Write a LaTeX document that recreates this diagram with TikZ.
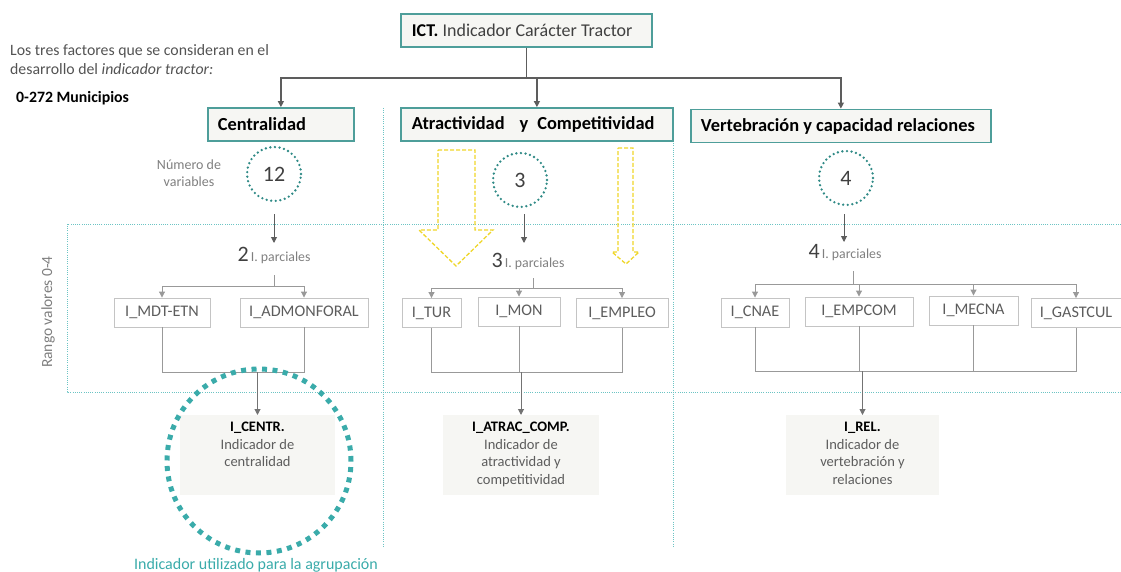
\documentclass[tikz,border=0pt]{standalone}
\usepackage{fontspec}
\setmainfont{Carlito}
\usetikzlibrary{arrows.meta}
\definecolor{teal1}{HTML}{4E9E9A}
\definecolor{tealdot}{HTML}{2F8A86}
\definecolor{tealbig}{HTML}{3AABAA}
\definecolor{teallight}{HTML}{6CC4C4}
\definecolor{txtdark}{HTML}{404040}
\definecolor{txtgray}{HTML}{7F7F7F}
\definecolor{boxgray}{HTML}{C4C4C4}
\definecolor{lightfill}{HTML}{F6F6F3}
\definecolor{yel}{HTML}{EFD62A}
\newcommand{\fs}[1]{\fontsize{#1}{#1}\selectfont}
\newcommand{\restext}[1]{\parbox[c][80pt][t]{150pt}{\centering\fontsize{14.5}{17.5}\selectfont\vspace{7pt}#1}}
\tikzset{
  factor/.style={draw=teal1, line width=1.8pt, fill=lightfill, minimum height=33pt, inner xsep=10pt, inner ysep=0pt, align=flush left, anchor=west, text=black, font=\fs{18.4}\bfseries},
  numcirc/.style={circle, draw=tealdot, line width=2.6pt, dash pattern=on 0pt off 4.6pt, line cap=round, minimum size=54pt, inner sep=0pt, font=\fs{22}, text=txtdark},
  ibox/.style={draw=boxgray, line width=0.9pt, fill=white, minimum height=29pt, inner sep=0pt, font=\fs{16.2}, text=txtdark!85},
  resbox/.style={fill=lightfill, minimum width=155pt, inner sep=0pt, anchor=north, text=txtdark!85},
  conn/.style={draw=txtdark!85, line width=1.2pt, -{Triangle[width=6pt,length=6pt]}},
  tline/.style={draw=black!40, line width=1pt},
  tarrow/.style={draw=black!40, line width=1pt, -{Triangle[width=6pt,length=6pt]}},
  tealdots/.style={draw=teallight, line width=1pt, dash pattern=on 1pt off 1.2pt},
  yarrow/.style={draw=yel, line width=1.3pt, dash pattern=on 4pt off 2pt},
  parc/.style={inner sep=0pt, text=txtgray}
}
\begin{document}
\begin{tikzpicture}[x=1pt,y=-1pt]
\useasboundingbox (0,0) rectangle (1121,572);

% dotted teal frame and separators
\draw[tealdots] (1121,224) -- (67,224) -- (67,392) -- (1121,392);
\draw[tealdots] (383,108) -- (383,546);
\draw[tealdots] (673,108) -- (673,546);

% intro text
\node[anchor=north west, align=left, inner sep=0pt, text=txtdark!90, font=\fontsize{15.8}{19.5}\selectfont] (intro) at (10,44)
  {Los tres factores que se consideran en el\\desarrollo del \textit{indicador tractor:}};
\node[anchor=west, inner sep=0pt, font=\fs{15.8}\bfseries, text=black] (muni) at (16,98) {0-272 Municipios};

% top box
\node[factor, font=\fs{18}, text width=235pt, inner xsep=8pt] (ict) at (400,30.5) {\hspace{3pt}\textbf{ICT.} \textcolor{txtdark}{Indicador Carácter Tractor}};

% factor boxes
\node[factor, text width=126pt] (cen) at (207,124.5) {Centralidad};
\node[factor, text width=250pt, inner xsep=11pt] (atr) at (400,124.5) {Atractividad\hspace{15pt}y\hspace{9pt}Competitividad};
\node[factor, text width=280pt] (ver) at (690,126) {Vertebración y capacidad relaciones};

\coordinate (hub) at (ict.south |- 0,78);
\draw[conn] (ict.south) -- (hub) -| (cen.north);
\draw[conn] (ict.south) -- (hub) -| (atr.north);
\draw[conn] (ict.south) -- (hub) -| (ver.north);

% number circles
\node[numcirc] (c12) at (274,174) {12};
\node[numcirc] (c3) at (520,180) {3};
\node[numcirc] (c4) at (846,178) {4};
\node[align=center, inner sep=0pt, text=txtgray, font=\fontsize{14}{17}\selectfont] (nvar) at (189,173) {Número de\\variables};

% yellow dashed arrows
\draw[yarrow] (438,150) -- (475,150) -- (475,230) -- (493,230) -- (456,266) -- (419,230) -- (438,230) -- cycle;
\draw[yarrow] (618,148) -- (633,148) -- (633,252) -- (639,252) -- (626,264) -- (612,252) -- (618,252) -- cycle;

% partial counts
\node[parc] (p2) at (274,255) {\textcolor{txtdark}{\fs{22}2} \fs{13.8}I. parciales};
\node[parc] (p3) at (528,261) {\textcolor{txtdark}{\fs{22}3} \fs{13.8}I. parciales};
\node[parc] (p4) at (845,253) {\textcolor{txtdark}{\fs{22}4} \fs{13.8}I. parciales};

\draw[conn, line width=1pt] (c12.south) ++(0,12) coordinate (a12) -- (274,243) coordinate (e12);
\draw[conn, line width=1pt] (c3.south) ++(4,6) coordinate (a3) -- (524,243) coordinate (e3);
\draw[conn, line width=1pt] (c4.south) ++(-2,8) coordinate (a4) -- (844,242) coordinate (e4);

% sub-indicator boxes
\node[ibox, minimum width=96pt] (mdt) at (162,312.5) {I\_MDT-ETN};
\node[ibox, minimum width=128pt] (adm) at (304,312.5) {I\_ADMONFORAL};

\node[ibox, minimum width=59pt] (tur) at (431.5,313) {I\_TUR};
\node[ibox, minimum width=82pt] (mon) at (519,311.5) {I\_MON};
\node[ibox, minimum width=92pt] (emp) at (622,313) {I\_EMPLEO};

\node[ibox, minimum width=68pt] (cnae) at (755,312.5) {I\_CNAE};
\node[ibox, minimum width=108pt] (empcom) at (859,311.5) {I\_EMPCOM};
\node[ibox, minimum width=89pt] (mecna) at (973.5,310.5) {I\_MECNA};
\node[ibox, minimum width=90pt] (gast) at (1076,313) {I\_GASTCUL};

% branches
\coordinate (b2t) at (274,275); \coordinate (b2) at (274,286);
\draw[tline] (b2t) -- (b2);
\draw[tarrow] (b2) -| (mdt.north);
\draw[tarrow] (b2) -| (adm.north);

\coordinate (b3t) at (533,278); \coordinate (b3) at (533,288);
\draw[tline] (b3t) -- (b3);
\draw[tarrow] (b3) -| (tur.north);
\draw[tarrow] (b3) -| (mon.north);
\draw[tarrow] (b3) -| (emp.north);

\coordinate (b4t) at (853,271); \coordinate (b4) at (853,284);
\draw[tline] (b4t) -- (b4);
\draw[tarrow] (b4) -| (cnae.north);
\draw[tarrow] (b4) -| (empcom.north);
\draw[tarrow] (b4) -| (mecna.north);
\draw[tarrow] (b4) -| (gast.north);

% result boxes
\node[resbox] (icentr) at (257.5,415) {\restext{\textbf{\textcolor{black}{I\_CENTR.}}\\Indicador de\\centralidad}};
\node[resbox, minimum width=156pt] (iatr) at (521,415) {\restext{\textbf{\textcolor{black}{I\_ATRAC\_COMP.}}\\Indicador de\\atractividad y\\competitividad}};
\node[resbox, minimum width=153pt] (irel) at (862.5,415) {\restext{\textbf{\textcolor{black}{I\_REL.}}\\Indicador de\\vertebración y\\relaciones}};

% joins
\coordinate (j2) at (257.5,372);
\draw[tline] (mdt.south) |- (j2);
\draw[tline] (adm.south) |- (j2);
\draw[tarrow, draw=black!55] (j2) -- (icentr.north);

\coordinate (j3) at (521,372);
\draw[tline] (tur.south) |- (j3);
\draw[tline] (mon.south) |- (j3);
\draw[tline] (emp.south) |- (j3);
\draw[tarrow, draw=black!55] (j3) -- (iatr.north);

\coordinate (j4) at (862.5,371);
\draw[tline] (cnae.south) |- (j4);
\draw[tline] (empcom.south) |- (j4);
\draw[tline] (mecna.south) |- (j4);
\draw[tline] (gast.south) |- (j4);
\draw[tarrow, draw=black!55] (j4) -- (irel.north);

% big dotted circle
\node[circle, draw=tealbig, line width=5pt, dash pattern=on 5pt off 5.5pt, minimum size=184pt, inner sep=0pt] (big) at (259,461) {};
\node[text=tealbig, inner sep=0pt, font=\fs{16}] (agr) at (256,565) {Indicador utilizado para la agrupación};

% rotated label
\node[rotate=90, text=txtgray, inner sep=0pt, font=\fs{15.5}] (rango) at (48,312) {Rango valores 0-4};
\end{tikzpicture}
\end{document}
